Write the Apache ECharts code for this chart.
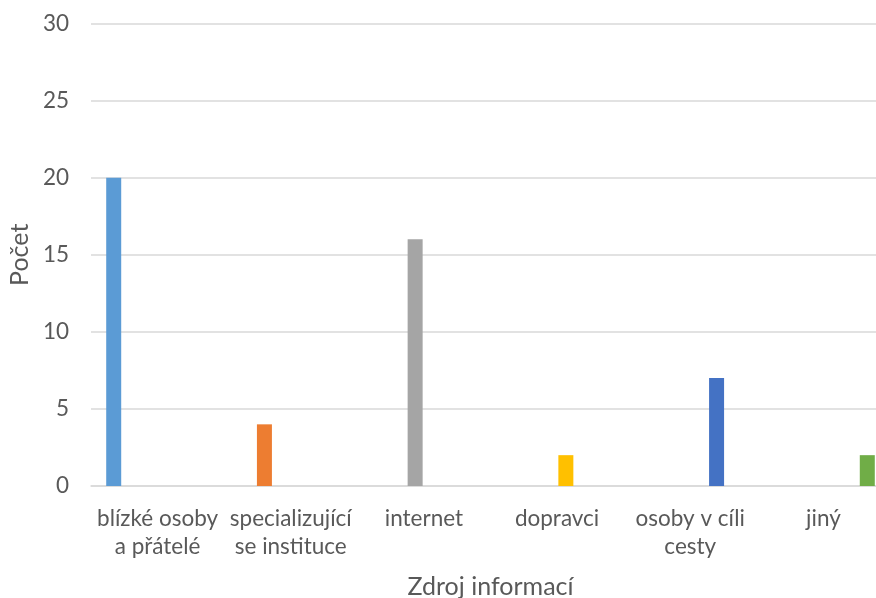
<!DOCTYPE html>
<html>
<head>
<meta charset="utf-8">
<script src="https://cdn.jsdelivr.net/npm/echarts@6/dist/echarts.min.js"></script>
<style>
  html, body { margin: 0; padding: 0; background: #fff; }
  #chart { width: 876px; height: 598px; }
</style>
</head>
<body>
<div id="chart"></div>
<script>
// Zdroje informací o cestě – počet odpovědí
const categories = [
  'blízké osoby\na přátelé',
  'specializující\nse instituce',
  'internet',
  'dopravci',
  'osoby v cíli\ncesty',
  'jiný'
];
const counts = [20, 4, 16, 2, 7, 2];
const colors = ['#5B9BD5', '#ED7D31', '#A5A5A5', '#FFC000', '#4472C4', '#70AD47'];
const yTicks = { min: 0, max: 30, interval: 5 };

const FONT = 'Lato, "Open Sans", sans-serif';
const TEXT = '#595959';

// one series per category, value only in its own category
const series = categories.map((name, i) => ({
  name: name,
  type: 'bar',
  barWidth: 15,
  barGap: '17%',
  itemStyle: { color: colors[i] },
  data: categories.map((_, j) => (j === i ? counts[i] : '-'))
}));

const chart = echarts.init(document.getElementById('chart'), null, { renderer: 'canvas' });
chart.setOption({
  animation: false,
  backgroundColor: '#ffffff',
  grid: {
    left: 91, right: -14, top: 23.5, bottom: 112,
    containLabel: false,
    outerBoundsMode: 'none'
  },
  xAxis: {
    type: 'category',
    data: categories,
    name: 'Zdroj informací',
    nameLocation: 'middle',
    nameGap: 88,
    nameTextStyle: { fontFamily: FONT, fontSize: 25, color: TEXT },
    axisLine: { lineStyle: { color: '#D9D9D9', width: 1.5 } },
    axisTick: { show: false },
    axisLabel: {
      interval: 0,
      margin: 19,
      fontFamily: FONT,
      fontSize: 22.5,
      lineHeight: 28,
      color: TEXT
    }
  },
  yAxis: {
    type: 'value',
    min: yTicks.min,
    max: yTicks.max,
    interval: yTicks.interval,
    name: 'Počet',
    nameLocation: 'middle',
    nameGap: 58,
    nameTextStyle: { fontFamily: FONT, fontSize: 25, color: TEXT },
    axisLine: { show: false },
    axisTick: { show: false },
    splitLine: { lineStyle: { color: '#D9D9D9', width: 1.5 } },
    axisLabel: { margin: 22, fontFamily: FONT, fontSize: 22.5, color: TEXT }
  },
  series: series
});
</script>
</body>
</html>
